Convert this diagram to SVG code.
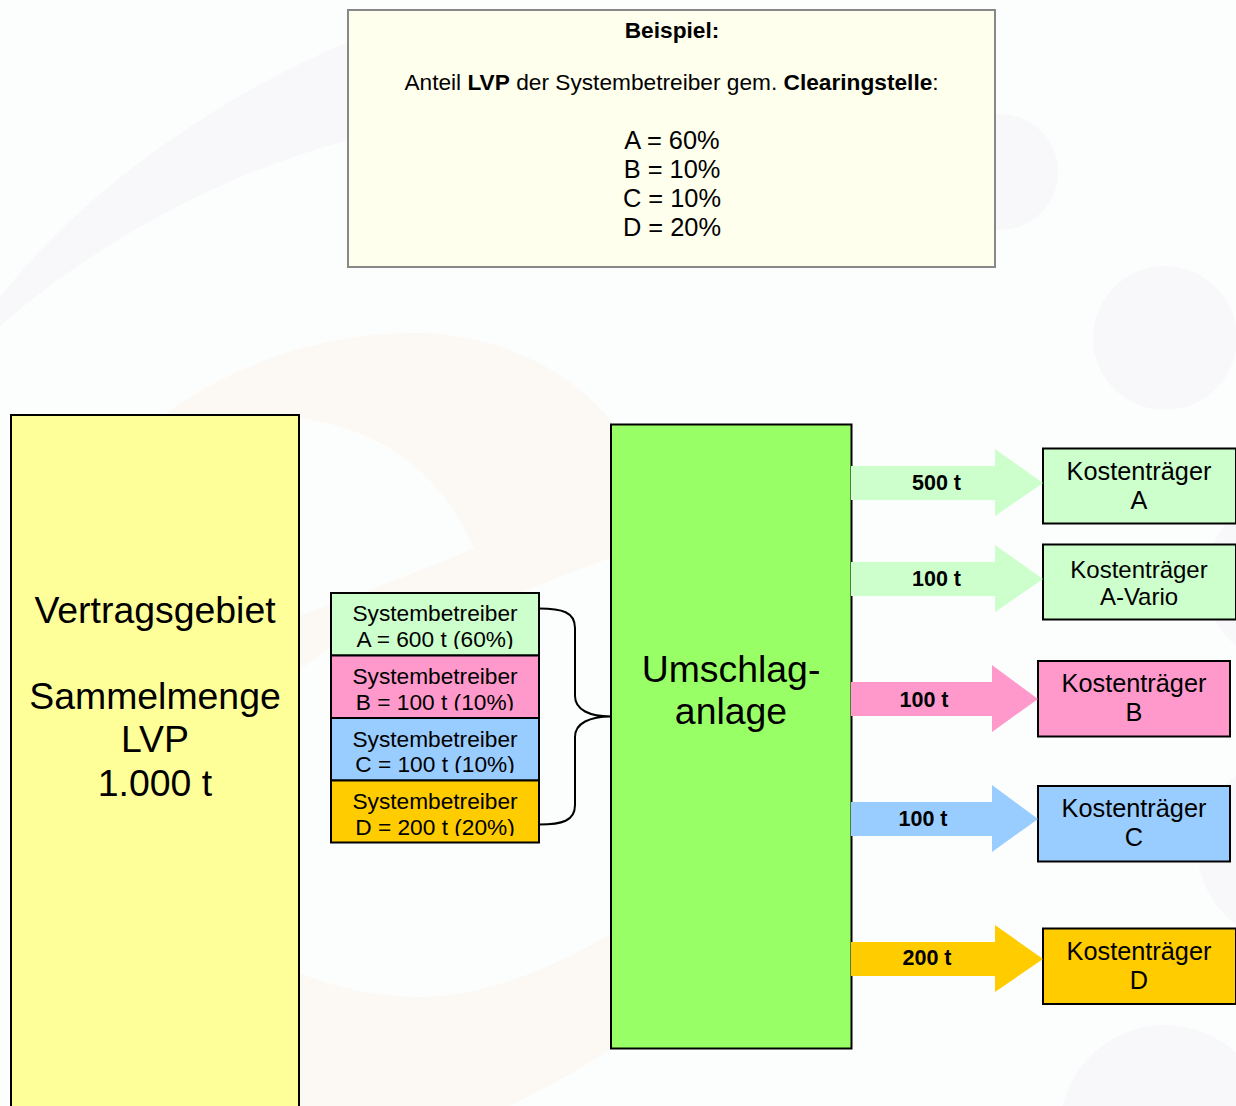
<svg xmlns="http://www.w3.org/2000/svg" width="1236" height="1106" viewBox="0 0 1236 1106">
<defs>
<style>
text{font-family:"Liberation Sans",Arial,sans-serif;fill:#000;text-anchor:middle}
.box{stroke:#000;stroke-width:2}
.s{font-size:22.7px}
.k{font-size:25.3px}
.kv{font-size:24px}
.big{font-size:37.4px}
.lab{font-size:21.5px;font-weight:bold}
.note{font-size:22.7px}
.num{font-size:25.4px}
.bold{font-weight:bold}
.gr{fill:#f8f8fa}
.or{fill:#fcf8f4}
.a{fill:#ccffcc}.b{fill:#ff99cc}.c{fill:#99ccff}.d{fill:#ffcc00}
</style>
<clipPath id="ca"><rect x="331" y="593" width="208" height="56"/></clipPath>
<clipPath id="cb"><rect x="331" y="656" width="208" height="54.500"/></clipPath>
<clipPath id="cc"><rect x="331" y="718" width="208" height="55"/></clipPath>
<clipPath id="cd"><rect x="331" y="781" width="208" height="55"/></clipPath>
</defs>
<g id="background">
<rect width="1236" height="1106" fill="#fcfdfd"/>
<path class="gr" d="M0 297C80 195 210 100 348 42L420 30L500 120L348 140C220 175 100 240 0 326Z"/>
<circle class="gr" cx="1000" cy="172" r="58"/>
<circle class="gr" cx="1165" cy="338" r="72"/>
<circle class="gr" cx="1290" cy="580" r="85"/>
<circle class="gr" cx="1290" cy="850" r="92"/>
<circle class="gr" cx="1165" cy="1130" r="105"/>
<path class="or" d="M150 425C240 355 340 332 420 333C500 335 570 370 612 422L612 557L520 592L365 592L474 549C445 480 390 430 300 418L280 425Z"/>
<path class="or" d="M300 973C340 990 385 998 425 997C490 995 560 965 612 933L612 1048C580 1070 540 1090 510 1106L300 1106Z"/>
<path class="or" d="M299 616L375 590L340 640L299 670Z"/>
</g>
<g id="note">
<rect x="348" y="10" width="647" height="257" fill="#ffffee" stroke="#888" stroke-width="2"/>
<text class="note bold" x="672" y="38">Beispiel:</text>
<text class="note" x="671.500" y="90">Anteil <tspan class="bold">LVP</tspan> der Systembetreiber gem. <tspan class="bold">Clearingstelle</tspan>:</text>
<text class="num" x="672" y="149">A = 60%</text>
<text class="num" x="672" y="178">B = 10%</text>
<text class="num" x="672" y="207">C = 10%</text>
<text class="num" x="672" y="236">D = 20%</text>
</g>
<g id="vertragsgebiet">
<rect class="box" x="11" y="415" width="288" height="700" fill="#ffff99"/>
<text class="big" x="155" y="623">Vertragsgebiet</text>
<text class="big" x="155" y="709">Sammelmenge</text>
<text class="big" x="155" y="752">LVP</text>
<text class="big" x="155" y="796">1.000 t</text>
</g>
<g id="sb-a">
<rect class="box a" x="331" y="593" width="208" height="62.500"/>
<g clip-path="url(#ca)"><text class="s" x="435" y="621">Systembetreiber</text><text class="s" x="435" y="647">A = 600 t (60%)</text></g>
</g>
<g id="sb-b">
<rect class="box b" x="331" y="655.500" width="208" height="62.500"/>
<g clip-path="url(#cb)"><text class="s" x="435" y="684">Systembetreiber</text><text class="s" x="435" y="710">B = 100 t (10%)</text></g>
</g>
<g id="sb-c">
<rect class="box c" x="331" y="718" width="208" height="62.500"/>
<g clip-path="url(#cc)"><text class="s" x="435" y="747">Systembetreiber</text><text class="s" x="435" y="772">C = 100 t (10%)</text></g>
</g>
<g id="sb-d">
<rect class="box d" x="331" y="780.500" width="208" height="62"/>
<g clip-path="url(#cd)"><text class="s" x="435" y="809">Systembetreiber</text><text class="s" x="435" y="835">D = 200 t (20%)</text></g>
</g>
<g id="umschlaganlage">
<rect class="box" x="611" y="424.500" width="240.500" height="624" fill="#99ff66"/>
<text class="big" x="731" y="682">Umschlag-</text>
<text class="big" x="731" y="724">anlage</text>
</g>
<g id="kt-a">
<rect class="box a" x="1043" y="448.500" width="193" height="75"/>
<text class="k" x="1139" y="480">Kostenträger</text>
<text class="k" x="1139" y="509">A</text>
</g>
<g id="kt-a-vario">
<rect class="box a" x="1043" y="544.500" width="193" height="75"/>
<text class="kv" x="1139" y="578">Kostenträger</text>
<text class="kv" x="1139" y="605">A-Vario</text>
</g>
<g id="kt-b">
<rect class="box b" x="1038" y="661" width="192" height="75.500"/>
<text class="k" x="1134" y="692">Kostenträger</text>
<text class="k" x="1134" y="721">B</text>
</g>
<g id="kt-c">
<rect class="box c" x="1038" y="786" width="192" height="75.500"/>
<text class="k" x="1134" y="817">Kostenträger</text>
<text class="k" x="1134" y="846">C</text>
</g>
<g id="kt-d">
<rect class="box d" x="1043" y="928.500" width="193" height="75.500"/>
<text class="k" x="1139" y="960">Kostenträger</text>
<text class="k" x="1139" y="989">D</text>
</g>
<g id="connectors">
<path class="a" d="M851 466H995V449L1043 483L995 516V500H851Z"/>
<path class="a" d="M851 562H995V545L1043 579L995 612V596H851Z"/>
<path class="b" d="M851 682H992V665L1038 699L992 732V716H851Z"/>
<path class="c" d="M851 802H992V785L1038 819L992 852V836H851Z"/>
<path class="d" d="M851 942H995V925L1043 959L995 992V976H851Z"/>
<path d="M539 608.500C562 608.500 575 612 575 628V696C575 710 590 716.500 611 716.500C590 716.500 575 723 575 737V805C575 821 562 824.500 539 824.500" fill="none" stroke="#000" stroke-width="2"/>
<text class="lab" x="936.500" y="490">500 t</text>
<text class="lab" x="936.500" y="586">100 t</text>
<text class="lab" x="924" y="707">100 t</text>
<text class="lab" x="923" y="826">100 t</text>
<text class="lab" x="927" y="965">200 t</text>
</g>
</svg>
